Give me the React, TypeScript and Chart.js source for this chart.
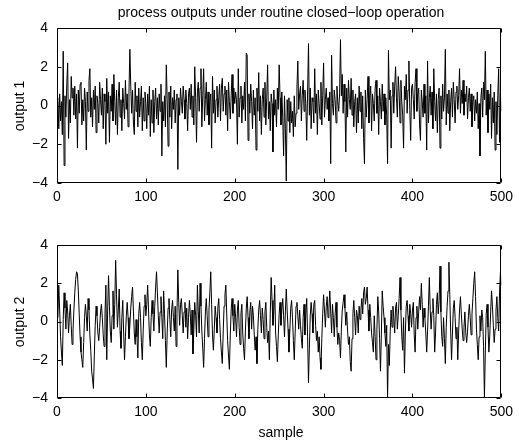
import React, { useEffect, useRef } from "react";
import { Chart, registerables } from "chart.js";

Chart.register(...registerables);

const output1 = [
  0.4, -1.2, 0.6, -0.8, 0.2, -1.5, 2.8, -3.1, 0.5, -0.6, 1.1, 2.2, -1.7, 0.3, -0.9, 1.5, 0.4, 0.9, -0.5, 1.0,
  -0.7, 0.6, -2.2, 0.8, -0.4, 1.1, 1.2, -1.0, 0.3, -0.8, 0.9, 0.2, -2.3, 0.7, -0.3, 1.3, 1.9, -0.6, 0.4, -1.1,
  0.8, -0.2, 1.0, -1.4, 0.5, 0.1, -0.9, 1.2, 0.3, -0.5, 0.9, -1.2, 0.6, 0.2, -2.0, 1.4, -0.4, 0.7, -1.9, 0.5,
  -0.3, 1.1, -0.8, 1.6, 0.2, -1.0, 0.8, -1.5, 0.4, 1.2, -0.6, 0.3, -1.3, 0.9, 0.1, -0.7, 1.3, -0.2, 0.6, -1.1,
  0.7, 2.9, 1.0, -0.4, 0.8, -0.9, -1.5, 1.2, -0.3, 0.5, -1.1, 0.9, -0.6, 0.2, 1.0, -1.3, 0.4, -0.8, 0.7, 0.1,
  -1.2, 0.6, -0.5, 1.0, -1.6, 0.3, -0.9, 0.8, -1.4, 0.2, 0.9, -0.7, 0.4, -1.0, 0.6, -0.3, 1.1, -2.6, 0.2, -0.8,
  0.5, -1.1, 2.1, 0.3, -2.1, 0.7, -0.6, 1.0, -1.2, 0.4, -0.2, 0.8, -0.9, 0.3, 0.6, -3.3, 0.4, -0.5, 0.9, 0.2,
  -0.4, 1.0, 0.3, -0.7, 0.8, 0.1, -1.3, 0.6, 0.9, -0.2, 1.1, -0.6, 0.5, -1.0, 2.0, 0.4, -1.9, 0.7, 1.2, -0.3,
  0.9, 1.9, -1.1, 0.5, 1.9, -0.8, 0.3, 1.2, -0.5, 0.7, -1.0, 0.2, 0.6, -2.2, 1.5, -0.4, 0.8, -0.9, 0.3, 1.0,
  -0.6, 0.4, 1.1, -0.8, 0.9, 1.4, -0.3, 0.6, 1.0, -0.5, 0.8, -1.3, 1.2, 0.2, -0.7, 0.5, 1.6, -0.4, 0.9, 0.1,
  0.7, 0.3, -2.0, 1.9, -0.6, 0.4, 1.0, -0.9, 0.5, -0.2, 1.2, -0.8, 2.7, 2.6, -1.8, 0.6, -0.4, 1.1, 0.2, -1.2,
  0.8, -0.5, 0.4, -2.3, 0.9, -0.3, 1.7, -0.8, 0.5, -1.5, 0.3, 0.9, -0.6, 1.2, -1.0, 0.4, 2.1, -0.7, 0.2, -1.3,
  0.6, 0.1, -2.4, 0.8, -0.5, 0.3, -1.1, 0.9, -0.2, 2.1, 0.4, -1.0, 0.7, -0.6, -2.6, 0.5, -1.2, -3.9, 0.3, -0.8,
  0.4, -1.4, 0.2, -0.9, -0.3, -1.6, 0.5, -1.1, -0.4, 0.9, 2.3, -0.2, 0.6, 1.0, -0.8, 0.5, 1.3, -0.3, 0.8, 0.1,
  -1.8, 0.7, 3.2, -0.5, 0.9, -1.2, 0.4, 0.2, -0.9, 1.9, -0.4, 0.6, -1.5, 0.8, 0.1, -0.7, 1.2, -1.0, 0.5, 2.2,
  -0.6, 0.3, 0.9, -0.2, 0.4, -0.8, 0.7, -3.0, 2.6, 0.1, -0.5, 0.8, 0.3, -0.9, 1.0, 0.2, -0.3, 0.6, 3.4, 0.5,
  1.6, -0.4, 1.1, 0.2, -2.4, 0.9, -0.6, 1.3, 0.3, -0.2, 1.4, -0.5, 0.8, -1.1, 0.2, 0.6, -1.4, 0.4, -0.9, 1.0,
  -0.3, 0.7, -1.2, 0.5, -1.7, -3.0, 0.8, -0.6, 0.3, 1.5, -0.9, 0.4, 1.0, -1.3, 0.6, 0.1, -0.8, 0.9, 1.3, -0.4,
  0.5, -1.5, 0.9, 0.2, -0.7, 1.1, -0.3, 0.6, -1.0, 0.4, -0.5, -3.0, 2.85, 0.3, 0.8, -2.2, 0.5, 1.2, -0.4, 1.0,
  2.0, 0.4, -0.6, 1.5, 0.7, -0.9, 1.3, 0.2, -0.5, -2.2, 1.0, 0.3, 1.6, -0.4, 0.8, 2.3, -0.2, -1.8, 0.9, 1.1,
  0.3, -0.7, 1.2, 1.9, -0.3, 0.6, 0.9, -1.0, -1.8, 0.8, 0.2, -0.6, 1.1, -0.4, 0.5, -2.3, 2.3, -0.9, 0.4, 1.0,
  -0.5, 0.7, -1.2, 1.9, 0.2, -0.8, 0.6, -1.4, 0.3, 0.9, -2.2, 0.5, -0.7, 1.1, -0.3, 0.4, 2.9, -1.0, 0.6, -0.4,
  0.8, -1.3, 0.2, 0.9, -0.6, 1.2, 0.3, -0.9, 0.7, 1.0, -0.2, 0.5, 1.9, -0.4, 0.8, 0.1, 1.3, -0.5, 0.6, 0.2,
  1.0, -0.7, 0.4, 0.9, -0.3, 0.6, -1.1, 0.2, 0.5, -0.8, 0.3, -0.4, 0.7, -1.2, 0.1, -2.6, 0.4, 0.9, -0.6, 1.2,
  0.3, 2.8, -0.5, 0.8, -1.4, 0.6, -0.2, 1.1, -1.7, 0.4, -0.9, 0.7, -2.3, 0.2, -1.5, 0.5, 1.9, -1.9, 0.6, -0.3,
];

const output2 = [
  0.2, 1.9, 0.6, -0.8, -1.6, -2.3, 0.1, 1.5, 0.7, -0.4, 1.1, 0.5, -0.6, 0.3, 0.9, -0.2, -1.2, -0.5, 0.6, 1.5,
  2.2, 2.6, 2.5, 1.6, 0.4, -0.8, -1.6, -2.0, -2.4, -1.1, 0.2, 0.9, 0.3, -0.5, 1.2, 0.6, -0.7, -1.5, -2.6, -3.0,
  -3.5, -1.8, -0.2, 0.8, 0.3, -0.6, -1.0, -0.3, 0.5, 0.9, 0.2, -0.7, -1.3, 0.4, 1.9, -2.0, 0.6, 2.4, 0.8, -0.5,
  -1.1, 0.3, 1.6, -0.4, 0.9, 3.2, 1.4, -0.3, 0.6, 1.7, -0.5, -1.4, 0.2, 1.1, -0.6, -2.0, -0.8, 0.3, 1.0, 0.2,
  -0.9, -0.2, 0.7, 1.3, 1.8, 0.5, -0.6, -1.2, 0.1, -0.8, -1.9, 0.4, 1.0, 0.2, -1.1, -2.0, -0.5, 0.8, 1.4, 0.3,
  0.9, 1.9, 0.6, -0.7, -1.3, 0.2, 1.1, 0.4, -0.5, 0.8, 1.8, 2.6, 1.5, 0.3, -0.6, 0.5, 1.3, 0.2, -0.9, 1.6,
  0.4, -1.0, -2.4, -0.6, 0.7, 1.2, 0.1, -0.8, 0.6, 1.1, 0.2, -0.5, 0.8, -1.3, 0.4, 2.7, 1.0, -0.2, 0.9, 1.2,
  0.3, -0.6, 0.5, 1.0, -0.3, 0.7, -0.9, 0.2, 1.1, 0.4, -0.7, 0.6, -1.7, -0.4, 1.0, 0.3, -0.8, 1.9, 0.5, -0.6,
  2.0, 0.8, -0.5, -1.4, -2.4, -0.9, 0.5, 1.2, 0.3, -0.8, 0.6, 1.5, 2.6, 0.9, -0.7, -1.5, -0.4, 0.8, 0.2, -0.6,
  0.7, 1.2, 0.1, -0.9, -1.6, -2.2, -0.6, 0.8, 1.4, 1.9, 0.4, -1.0, -1.8, -2.5, -0.7, 0.6, 1.2, 0.3, -0.5, 0.9,
  0.2, -0.8, 0.6, 1.1, -0.3, -1.2, 0.4, 0.9, -0.6, -1.4, -2.0, -0.5, 0.7, 1.3, 0.2, -0.9, 0.5, 1.0, -0.4, 0.8,
  0.3, -0.7, -1.5, -0.8, -2.2, -0.4, 0.6, 1.1, 0.3, -0.6, 0.7, 0.1, -0.9, 0.5, 1.0, -0.3, -1.1, -0.5, -2.0, 0.4,
  2.3, 1.1, -0.2, 0.5, 1.9, -0.6, -1.3, -2.1, -0.7, 0.4, 1.0, -0.2, 0.6, 1.2, 0.3, -0.8, 0.5, 1.7, 0.6, -0.4,
  -1.6, -0.5, 0.7, 1.1, 0.2, -1.0, -2.0, -0.6, 0.8, 1.0, 0.3, -0.4, 0.6, -0.2, -0.9, -1.4, 0.2, 0.9, -0.7, 0.4,
  1.2, -0.8, -3.2, -1.4, 0.3, 1.0, 0.4, -0.6, 0.9, 1.1, -0.2, -1.0, -0.5, -1.6, -0.8, -1.9, -2.5, -0.9, 0.4, 1.4,
  0.6, -0.3, 0.8, 1.3, 0.2, 0.7, 1.6, 0.5, -0.6, 0.9, 0.2, -0.8, 0.4, 1.0, -0.3, -1.2, -0.6, -1.0, -1.9, -0.4,
  0.6, 1.0, 1.4, 0.7, -0.2, 0.5, -0.5, -1.2, -0.8, -2.1, -2.6, -0.9, 0.4, 1.1, 0.2, -0.7, 0.6, 0.3, -0.6, 0.8,
  0.1, 0.6, 1.2, 0.4, 1.5, 1.8, 0.9, 1.2, 1.8, 0.6, -0.5, 0.9, 0.2, -0.6, -1.1, -1.6, 0.3, -0.8, -2.0, -0.4,
  1.3, 0.5, -0.9, -2.6, -0.7, 1.6, 0.8, 0.2, -0.6, -1.3, -0.2, -4.0, -1.2, -2.3, -0.5, 0.6, -0.3, 0.8, 0.2, -0.6,
  0.7, 1.0, -0.4, 0.3, 1.2, 2.3, 0.6, -0.8, -1.5, 0.2, -2.7, -0.6, 0.8, 1.1, 0.3, -0.5, 0.9, 0.4, -0.3, 0.6,
  1.0, -0.7, -1.6, 0.2, 0.8, -0.4, 0.5, 1.3, 0.6, 2.0, 0.9, -0.3, 0.7, 0.2, -0.6, -1.6, -0.5, 0.8, 2.3, 0.6,
  -0.4, 0.5, 1.2, 0.3, -1.6, -0.6, 0.9, 1.5, 0.4, 1.1, 2.9, 0.5, -0.8, -1.3, 0.2, -0.9, -2.2, -0.3, 0.8, 1.6,
  3.1, 1.4, -0.5, -2.0, -0.6, 0.7, 1.1, 0.2, -0.9, -0.3, -2.0, -0.5, 0.6, 1.3, 0.4, -0.4, -1.0, -0.3, 0.5, -0.6,
  -1.1, -0.5, 0.3, 0.9, 0.2, -0.7, 0.4, 1.2, 2.0, 2.6, 1.3, -0.4, -1.2, -2.0, -0.8, 0.3, -0.5, 0.6, 0.2, -1.3,
  -4.0, -1.6, 0.4, 0.9, -0.3, -1.6, -0.7, 0.5, 1.6, 0.8, -0.2, -1.1, -0.4, 0.6, 1.3, 0.2, -0.5, 1.5, 2.6, 1.9,
];

const xTicks = [0, 100, 200, 300, 400, 500];
const yTicks = [-4, -2, 0, 2, 4];
const titleText = "process outputs under routine closed\u2212loop operation";
const yLabels = ["output 1", "output 2"];
const xLabel = "sample";

const FONT = "'Liberation Sans', Arial, Helvetica, sans-serif";
const W = 519;

const matlabBox = {
  id: "matlabBox",
  afterDraw(chart: any) {
    const { ctx, chartArea: a, scales } = chart;
    const L = Math.round(a.left) + 0.5;
    const R = Math.round(a.right) - 0.5;
    const T = Math.round(a.top) + 0.5;
    const B = Math.round(a.bottom) - 0.5;
    ctx.save();
    ctx.strokeStyle = "#000";
    ctx.lineWidth = 1;
    ctx.beginPath();
    ctx.rect(L, T, R - L, B - T);
    const tl = 4;
    for (const v of xTicks) {
      const x = Math.round(scales.x.getPixelForValue(v)) + 0.5;
      ctx.moveTo(x, B);
      ctx.lineTo(x, B - tl);
      ctx.moveTo(x, T);
      ctx.lineTo(x, T + tl);
    }
    for (const v of yTicks) {
      const y = Math.round(scales.y.getPixelForValue(v)) + 0.5;
      ctx.moveTo(L, y);
      ctx.lineTo(L + tl, y);
      ctx.moveTo(R, y);
      ctx.lineTo(R - tl, y);
    }
    ctx.stroke();
    ctx.restore();
  },
};

function makeConfig(values: number[], padTop: number, axisHeight: number): any {
  return {
    type: "line",
    data: {
      datasets: [
        {
          data: values.map((v, i) => ({ x: i + 1, y: v })),
          borderColor: "#000",
          borderWidth: 1,
          pointRadius: 0,
          fill: false,
          tension: 0,
        },
      ],
    },
    options: {
      animation: false,
      responsive: false,
      maintainAspectRatio: false,
      events: [],
      layout: { padding: { left: 0, right: 14, top: padTop, bottom: 0 } },
      plugins: { legend: { display: false }, tooltip: { enabled: false } },
      scales: {
        x: {
          type: "linear",
          min: 0,
          max: 500,
          afterBuildTicks: (s: any) => {
            s.ticks = xTicks.map((v) => ({ value: v }));
          },
          grid: { display: false, drawTicks: false },
          border: { display: false },
          ticks: {
            color: "#000",
            font: { family: FONT, size: 14 },
            padding: 6,
            maxRotation: 0,
            autoSkip: false,
            callback: (v: any) => String(v),
          },
          afterFit: (s: any) => {
            s.height = axisHeight;
          },
        },
        y: {
          type: "linear",
          min: -4,
          max: 4,
          afterBuildTicks: (s: any) => {
            s.ticks = yTicks.map((v) => ({ value: v }));
          },
          grid: { display: false, drawTicks: false },
          border: { display: false },
          ticks: {
            color: "#000",
            font: { family: FONT, size: 14 },
            padding: 9,
            autoSkip: false,
            callback: (v: any) => String(v).replace("-", "\u2212"),
          },
          afterFit: (s: any) => {
            s.width = 57;
          },
        },
      },
    },
    plugins: [matlabBox],
  };
}

const textStyle: React.CSSProperties = {
  position: "absolute",
  fontFamily: FONT,
  fontSize: 14,
  lineHeight: "16px",
  color: "#000",
  whiteSpace: "nowrap",
};

export default function App() {
  const ref1 = useRef<HTMLCanvasElement>(null);
  const ref2 = useRef<HTMLCanvasElement>(null);

  useEffect(() => {
    document.body.style.margin = "0";
    const c1 = new Chart(ref1.current as HTMLCanvasElement, makeConfig(output1, 28, 32));
    const c2 = new Chart(ref2.current as HTMLCanvasElement, makeConfig(output2, 30, 48));
    return () => {
      c1.destroy();
      c2.destroy();
    };
  }, []);

  return (
    <div style={{ position: "relative", width: W, height: 446, background: "#fff", overflow: "hidden" }}>
      <canvas
        ref={ref1}
        width={W}
        height={215}
        style={{ position: "absolute", left: 0, top: 0, width: W, height: 215 }}
      />
      <canvas
        ref={ref2}
        width={W}
        height={231}
        style={{ position: "absolute", left: 0, top: 215, width: W, height: 231 }}
      />
      <div style={{ ...textStyle, left: 281, top: 4, transform: "translateX(-50%)" }}>{titleText}</div>
      <div style={{ ...textStyle, left: 19, top: 106, transform: "translate(-50%, -50%) rotate(-90deg)" }}>
        {yLabels[0]}
      </div>
      <div style={{ ...textStyle, left: 19, top: 322, transform: "translate(-50%, -50%) rotate(-90deg)" }}>
        {yLabels[1]}
      </div>
      <div style={{ ...textStyle, left: 281, top: 424, transform: "translateX(-50%)" }}>{xLabel}</div>
    </div>
  );
}
